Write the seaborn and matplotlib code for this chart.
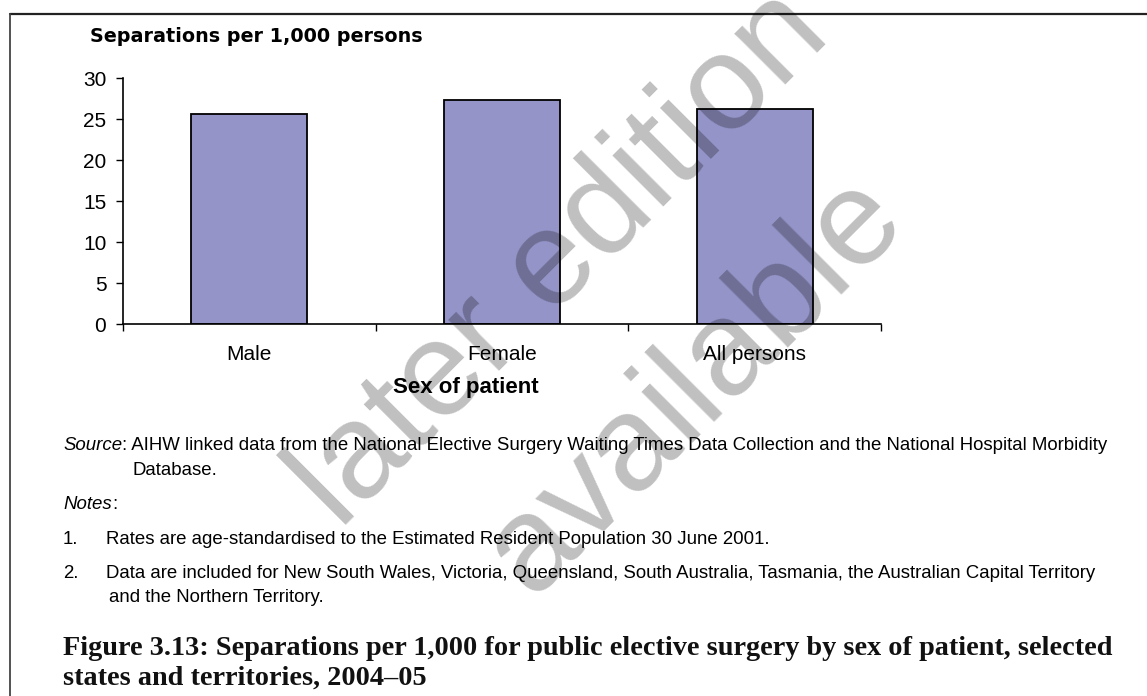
import numpy as np
import pandas as pd
import matplotlib
matplotlib.use('Agg')
import matplotlib.pyplot as plt
import seaborn as sns
from matplotlib.lines import Line2D
from matplotlib.ticker import FixedLocator

# ---------------- data ----------------
categories = ['Male', 'Female', 'All persons']
rates = [25.6, 27.3, 26.3]
y_ticks = [0, 5, 10, 15, 20, 25, 30]
y_title = 'Separations per 1,000 persons'
x_title = 'Sex of patient'
source_label = 'Source'
source_text = ': AIHW linked data from the National Elective Surgery Waiting Times Data Collection and the National Hospital Morbidity'
source_cont = 'Database.'
notes_label = 'Notes'
note_nums = ['1.', '2.']
note1 = 'Rates are age-standardised to the Estimated Resident Population 30 June 2001.'
note2a = 'Data are included for New South Wales, Victoria, Queensland, South Australia, Tasmania, the Australian Capital Territory'
note2b = 'and the Northern Territory.'
caption1 = 'Figure 3.13: Separations per 1,000 for public elective surgery by sex of patient, selected'
caption2 = 'states and territories, 2004\u201305'
watermark1 = 'later edition'
watermark2 = 'available'

# ---------------- layout ----------------
W, H = 1147, 696
sns.set_style('white')
plt.rcParams['font.family'] = ['Liberation Sans', 'DejaVu Sans']
plt.rcParams['text.color'] = 'black'

fig = plt.figure(figsize=(W / 100, H / 100), dpi=100)
fig.patch.set_facecolor('white')


def fx(x):
    return x / W


def fy(y):
    return 1 - y / H


ax_l, ax_r, ax_t, ax_b = 123, 881, 78.3, 324.3
ax = fig.add_axes([fx(ax_l), fy(ax_b), (ax_r - ax_l) / W, (ax_b - ax_t) / H])
df = pd.DataFrame({'sex': categories, 'rate': rates})
sns.barplot(data=df, x='sex', y='rate', color='#9494C8', saturation=1,
            width=0.46, edgecolor='black', linewidth=1.3, ax=ax, zorder=2)

ax.set_ylim(0, 30)
ax.set_xlim(-0.5, 2.5)
ax.set_yticks(y_ticks)
ax.set_ylabel('')
ax.set_xlabel(x_title, fontsize=16, fontweight='bold', color='black')
ax.xaxis.set_label_coords((466 - ax_l) / (ax_r - ax_l), (ax_b - 377.0) / (ax_b - ax_t))

ax.tick_params(axis='y', direction='out', length=5, width=1, pad=7,
               labelsize=15, colors='black', left=True)
ax.tick_params(axis='x', which='major', length=0, pad=15, labelsize=15,
               colors='black', bottom=True)
ax.xaxis.set_minor_locator(FixedLocator([-0.5, 0.5, 1.5, 2.5]))
ax.tick_params(axis='x', which='minor', direction='out', length=5, width=1,
               colors='black', bottom=True)
for s in ['top', 'right']:
    ax.spines[s].set_visible(False)
for s in ['left', 'bottom']:
    ax.spines[s].set_color('black')
    ax.spines[s].set_linewidth(1.2)
ax.grid(False)

renderer = fig.canvas.get_renderer()


def width_px(t):
    return t.get_window_extent(renderer).width


# y-axis title (above axis)
t_y = fig.text(fx(90), fy(42.3), y_title, fontweight='bold', family='DejaVu Sans',
               fontsize=14, va='baseline', color='black')
t_y.set_fontsize(14 * 332 / width_px(t_y))

# ---------------- notes ----------------
fs0 = 12
t_s1 = fig.text(fx(63), fy(450), source_label, style='italic', fontsize=fs0, va='baseline')
t_s2 = fig.text(fx(63), fy(450), source_text, fontsize=fs0, va='baseline')
tot = width_px(t_s1) + width_px(t_s2)
fs = fs0 * 1050 / tot
t_s1.set_fontsize(fs)
t_s2.set_fontsize(fs)
t_s2.set_x(fx(63 + width_px(t_s1)))

fig.text(fx(132), fy(475), source_cont, fontsize=fs, va='baseline')
t_n1 = fig.text(fx(63), fy(509), notes_label, style='italic', fontsize=fs, va='baseline')
fig.text(fx(63 + width_px(t_n1)), fy(509), ':', fontsize=fs, va='baseline')

fig.text(fx(63), fy(544), note_nums[0], fontsize=fs, va='baseline')
fig.text(fx(106), fy(544), note1, fontsize=fs, va='baseline')
fig.text(fx(63), fy(578), note_nums[1], fontsize=fs, va='baseline')
fig.text(fx(106), fy(578), note2a, fontsize=fs, va='baseline')
fig.text(fx(109), fy(601.5), note2b, fontsize=fs, va='baseline')

# ---------------- caption ----------------
c1 = fig.text(fx(63), fy(655), caption1, family='Liberation Serif', fontweight='bold',
              fontsize=18, va='baseline', color='#111111')
cfs = 18 * 1045 / width_px(c1)
c1.set_fontsize(cfs)
fig.text(fx(63), fy(685), caption2, family='Liberation Serif', fontweight='bold',
         fontsize=cfs, va='baseline', color='#111111')

# ---------------- border ----------------
fig.add_artist(Line2D([fx(10), 1], [fy(14), fy(14)], transform=fig.transFigure,
                      color='#222222', lw=1.6))
fig.add_artist(Line2D([fx(10), fx(10)], [fy(14), 0], transform=fig.transFigure,
                      color='#444444', lw=1.3))

# ---------------- watermark ----------------
wm = dict(fontsize=97, color='black', alpha=0.25, rotation=45, rotation_mode='anchor',
          ha='center', va='center', family='Liberation Sans', zorder=10)
fig.text(fx(561), fy(259), watermark1, **wm)
fig.text(fx(694), fy(385), watermark2, **wm)

fig.savefig('out.png', dpi=100, facecolor='white')
